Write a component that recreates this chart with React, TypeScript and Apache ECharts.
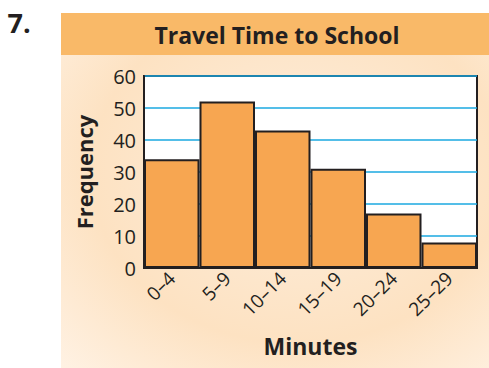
import React, { useEffect, useRef } from "react";
import * as echarts from "echarts";

const categories = ["0–4", "5–9", "10–14", "15–19", "20–24", "25–29"];
const frequencies = [34, 52, 43, 31, 17, 8];
const yTicks = { min: 0, max: 60, interval: 10 };
const titleText = "Travel Time to School";
const xName = "Minutes";
const yName = "Frequency";
const problemNumber = "7.";

const FONT = "'Open Sans', 'Noto Sans', sans-serif";
const INK = "#231f20";

export default function App() {
  const ref = useRef<HTMLDivElement>(null);
  useEffect(() => {
    if (!ref.current) return;
    const chart = echarts.init(ref.current, undefined, { renderer: "svg" });
    chart.setOption({
      animation: false,
      backgroundColor: "#ffffff",
      textStyle: { fontFamily: FONT },
      graphic: [
        {
          type: "rect",
          z: -10,
          shape: { x: 61, y: 13, width: 428, height: 355 },
          style: {
            fill: new echarts.graphic.RadialGradient(0.55, 0.45, 0.8, [
              { offset: 0, color: "#fdeedd" },
              { offset: 0.6, color: "#fde2c2" },
              { offset: 1, color: "#fff3e6" },
            ]),
          },
        },
        {
          type: "rect",
          z: -9,
          shape: { x: 61, y: 13, width: 428, height: 42 },
          style: { fill: "#f9b968" },
        },
        {
          type: "text",
          x: 277,
          y: 35,
          style: {
            text: titleText,
            fontFamily: FONT,
            fontWeight: "bold",
            fontSize: 23,
            fill: INK,
            align: "center",
            verticalAlign: "middle",
          },
        },
        {
          type: "text",
          x: 19,
          y: 22,
          style: {
            text: problemNumber,
            fontFamily: FONT,
            fontWeight: "bold",
            fontSize: 27,
            fill: INK,
            align: "center",
            verticalAlign: "middle",
          },
        },
      ],
      grid: {
        left: 144,
        top: 76,
        width: 333,
        height: 192,
        show: true,
        backgroundColor: "#ffffff",
        borderColor: INK,
        borderWidth: 2,
      },
      xAxis: {
        type: "category",
        data: categories,
        axisLine: { show: true, lineStyle: { color: INK, width: 2 } },
        axisTick: { show: false },
        axisLabel: {
          rotate: 45,
          interval: 0,
          margin: 7,
          fontSize: 19,
          color: INK,
          fontFamily: FONT,
        },
        name: xName,
        nameLocation: "middle",
        nameGap: 66,
        nameTextStyle: { fontSize: 23, fontWeight: "bold", color: INK, fontFamily: FONT },
      },
      yAxis: {
        type: "value",
        min: yTicks.min,
        max: yTicks.max,
        interval: yTicks.interval,
        axisLine: { show: true, lineStyle: { color: INK, width: 2 } },
        axisTick: { show: false },
        axisLabel: { fontSize: 20, color: INK, margin: 8, fontFamily: FONT },
        splitLine: { show: true, lineStyle: { color: "#1ba9e1", width: 1.5 } },
        name: yName,
        nameLocation: "middle",
        nameGap: 49,
        nameTextStyle: { fontSize: 22, fontWeight: "bold", color: INK, fontFamily: FONT },
      },
      series: [
        {
          type: "bar",
          data: frequencies,
          barCategoryGap: "0%",
          itemStyle: { color: "#f7a651", borderColor: INK, borderWidth: 2 },
        },
      ],
    });
    return () => chart.dispose();
  }, []);
  return (
    <div
      ref={ref}
      style={{ position: "fixed", left: 0, top: 0, width: 489, height: 368 }}
    />
  );
}
